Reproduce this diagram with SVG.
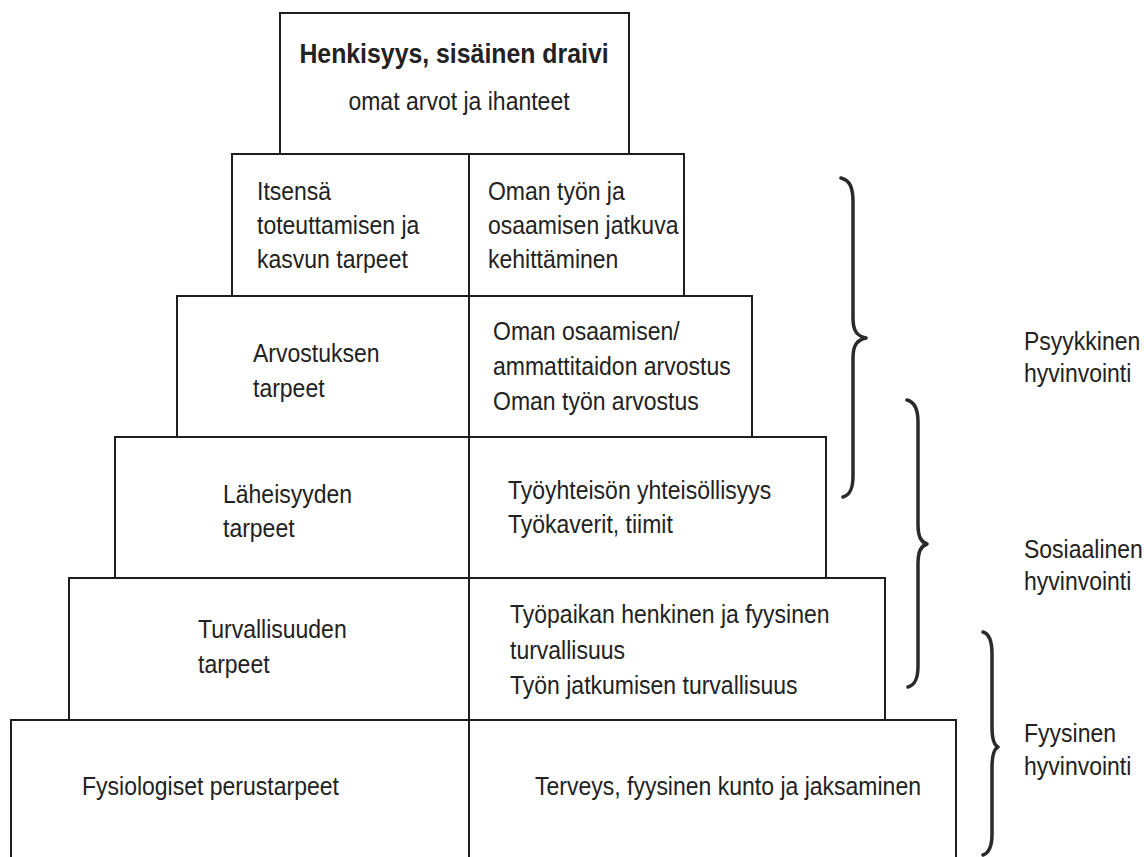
<svg xmlns="http://www.w3.org/2000/svg" width="1144" height="857" viewBox="0 0 1144 857">
<style>
  .box { fill: #ffffff; stroke: #1e1e1e; stroke-width: 2; }
  .div { stroke: #1e1e1e; stroke-width: 2; fill: none; }
  .t { font-family: "Liberation Sans", Arial, sans-serif; font-size: 25px; fill: #222222; }
  .b { font-weight: bold; font-size: 27px; }
  .brace { fill: none; stroke: #2a2a2a; stroke-width: 3.5; stroke-linecap: round; stroke-linejoin: round; }
</style>
<rect x="0" y="0" width="1144" height="857" fill="#ffffff"/>

<g id="top">
  <rect class="box" x="280" y="13" width="349" height="141"/>
  <text class="t b" transform="scale(0.92,1)" x="493.48" y="63" text-anchor="middle">Henkisyys, sisäinen draivi</text>
  <text class="t" transform="scale(0.92,1)" x="498.91" y="110" text-anchor="middle">omat arvot ja ihanteet</text>
</g>

<g id="row-itsensa">
  <rect class="box" x="232" y="154" width="452" height="142"/>
  <line class="div" x1="469" y1="154" x2="469" y2="296"/>
  <text class="t" transform="scale(0.92,1)" x="279.35" y="200">Itsensä</text>
  <text class="t" transform="scale(0.92,1)" x="279.35" y="234">toteuttamisen ja</text>
  <text class="t" transform="scale(0.92,1)" x="279.35" y="268">kasvun tarpeet</text>
  <text class="t" transform="scale(0.92,1)" x="530.43" y="200">Oman työn ja</text>
  <text class="t" transform="scale(0.92,1)" x="530.43" y="234">osaamisen jatkuva</text>
  <text class="t" transform="scale(0.92,1)" x="530.43" y="268">kehittäminen</text>
</g>

<g id="row-arvostus">
  <rect class="box" x="177" y="296" width="575" height="141"/>
  <line class="div" x1="469" y1="296" x2="469" y2="437"/>
  <text class="t" transform="scale(0.92,1)" x="275" y="362">Arvostuksen</text>
  <text class="t" transform="scale(0.92,1)" x="275" y="397">tarpeet</text>
  <text class="t" transform="scale(0.92,1)" x="535.87" y="340">Oman osaamisen/</text>
  <text class="t" transform="scale(0.92,1)" x="535.87" y="375">ammattitaidon arvostus</text>
  <text class="t" transform="scale(0.92,1)" x="535.87" y="410">Oman työn arvostus</text>
</g>

<g id="row-laheisyys">
  <rect class="box" x="115" y="437" width="711" height="141"/>
  <line class="div" x1="469" y1="437" x2="469" y2="578"/>
  <text class="t" transform="scale(0.92,1)" x="242.39" y="503">Läheisyyden</text>
  <text class="t" transform="scale(0.92,1)" x="242.39" y="537">tarpeet</text>
  <text class="t" transform="scale(0.92,1)" x="552.17" y="499">Työyhteisön yhteisöllisyys</text>
  <text class="t" transform="scale(0.92,1)" x="552.17" y="533">Työkaverit, tiimit</text>
</g>

<g id="row-turvallisuus">
  <rect class="box" x="69" y="578" width="816" height="142"/>
  <line class="div" x1="469" y1="578" x2="469" y2="720"/>
  <text class="t" transform="scale(0.92,1)" x="215.22" y="638">Turvallisuuden</text>
  <text class="t" transform="scale(0.92,1)" x="215.22" y="673">tarpeet</text>
  <text class="t" transform="scale(0.92,1)" x="554.35" y="623">Työpaikan henkinen ja fyysinen</text>
  <text class="t" transform="scale(0.92,1)" x="554.35" y="659">turvallisuus</text>
  <text class="t" transform="scale(0.92,1)" x="554.35" y="694">Työn jatkumisen turvallisuus</text>
</g>

<g id="row-fysiologiset">
  <rect class="box" x="11" y="720" width="945" height="150"/>
  <line class="div" x1="469" y1="720" x2="469" y2="870"/>
  <text class="t" transform="scale(0.92,1)" x="89.13" y="795">Fysiologiset perustarpeet</text>
  <text class="t" transform="scale(0.92,1)" x="581.52" y="795">Terveys, fyysinen kunto ja jaksaminen</text>
</g>

<g id="connectors">
  <path class="brace" d="M841,178 C850,180 853,188 853,202 L853,318 C853,331 857,336 866,338 C857,340 853,345 853,358 L853,476 C853,489 850,495 843,497"/>
  <path class="brace" d="M907,400 C915,402 918,410 918,422 L918,524 C918,537 921,542 927,544 C921,546 918,551 918,564 L918,666 C918,679 915,685 908,687"/>
  <path class="brace" d="M983,632 C990,634 992,642 992,654 L992,727 C992,740 994,745 998,747 C994,749 992,754 992,767 L992,834 C992,847 989,853 983,855"/>
</g>

<g id="label-psyykkinen">
  <text class="t" transform="scale(0.92,1)" x="1113.04" y="350">Psyykkinen</text>
  <text class="t" transform="scale(0.92,1)" x="1113.04" y="382">hyvinvointi</text>
</g>
<g id="label-sosiaalinen">
  <text class="t" transform="scale(0.92,1)" x="1113.04" y="558">Sosiaalinen</text>
  <text class="t" transform="scale(0.92,1)" x="1113.04" y="590">hyvinvointi</text>
</g>
<g id="label-fyysinen">
  <text class="t" transform="scale(0.92,1)" x="1113.04" y="742">Fyysinen</text>
  <text class="t" transform="scale(0.92,1)" x="1113.04" y="775">hyvinvointi</text>
</g>
</svg>
